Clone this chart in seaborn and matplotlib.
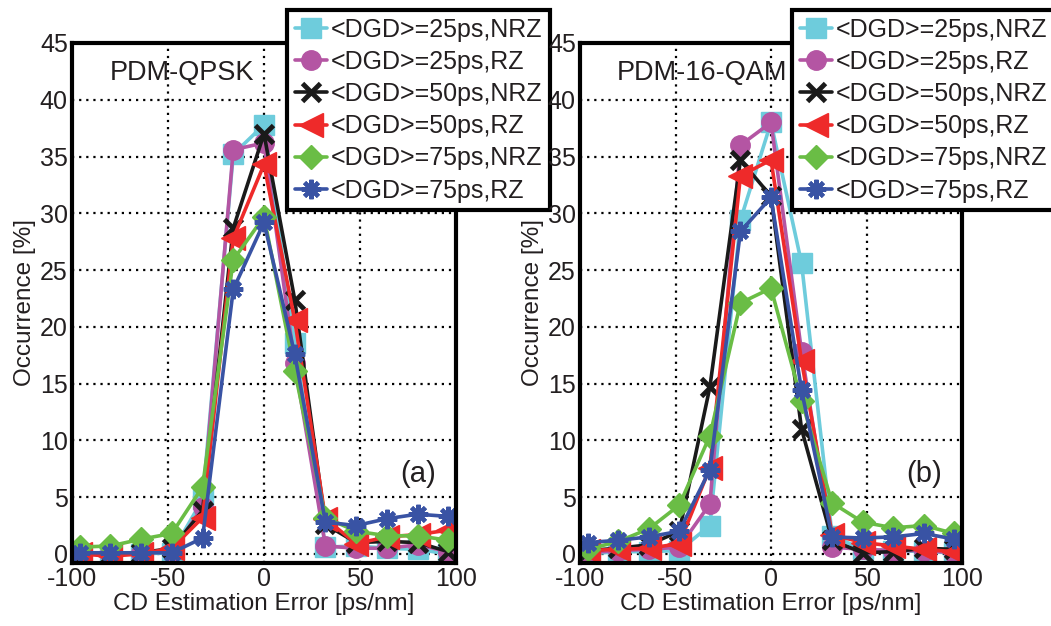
import numpy as np
import pandas as pd
import matplotlib
matplotlib.use("Agg")
import matplotlib.pyplot as plt
import seaborn as sns

sns.set_theme(style="white")
plt.rcParams['font.family'] = ['Liberation Sans', 'DejaVu Sans']
plt.rcParams['axes.unicode_minus'] = False

cd_error = [-96, -80, -64, -48, -32, -16, 0, 16, 32, 48, 64, 80, 96]

series_labels = ["<DGD>=25ps,NRZ", "<DGD>=25ps,RZ", "<DGD>=50ps,NRZ",
                 "<DGD>=50ps,RZ", "<DGD>=75ps,NRZ", "<DGD>=75ps,RZ"]

# Panel (a) PDM-QPSK
qpsk_25_nrz = [0.0, 0.0, 0.0, 0.1, 4.8, 35.2, 37.8, 18.6, 0.6, 0.7, 0.5, 0.4, 0.0]
qpsk_25_rz = [0.1, 0.1, 0.1, 0.2, 4.1, 35.6, 36.2, 16.8, 0.7, 0.5, 0.5, 0.8, 0.2]
qpsk_50_nrz = [0.0, 0.0, 0.1, 0.5, 3.8, 28.7, 37.0, 22.4, 2.6, 1.0, 1.1, 1.0, 0.2]
qpsk_50_rz = [0.0, -0.2, 0.0, 0.5, 3.2, 27.8, 34.3, 20.6, 3.1, 0.9, 1.5, 1.7, 2.1]
qpsk_75_nrz = [0.6, 0.7, 1.3, 1.8, 5.9, 25.9, 29.7, 16.1, 3.2, 2.0, 1.6, 1.6, 1.2]
qpsk_75_rz = [0.1, 0.1, 0.1, 0.1, 1.4, 23.3, 29.2, 17.6, 2.8, 2.5, 3.1, 3.5, 3.3]

# Panel (b) PDM-16-QAM
qam_25_nrz = [0.0, 0.2, 0.2, 0.3, 2.5, 29.4, 38.0, 25.6, 1.6, 0.4, 0.3, 0.2, 0.1]
qam_25_rz = [0.1, 0.3, 0.4, 0.6, 4.4, 36.0, 38.0, 17.8, 0.6, 0.4, 0.3, 0.3, 0.1]
qam_50_nrz = [0.3, 0.5, 0.8, 2.0, 14.7, 34.7, 31.5, 11.0, 1.2, 0.1, 0.2, 0.5, 0.4]
qam_50_rz = [0.3, 0.4, 0.5, 0.9, 7.6, 33.3, 34.7, 17.0, 1.7, 1.0, 0.7, 0.4, 0.2]
qam_75_nrz = [0.4, 1.1, 2.2, 4.3, 10.4, 22.1, 23.4, 13.5, 4.5, 2.8, 2.3, 2.5, 1.8]
qam_75_rz = [1.0, 1.2, 1.5, 2.0, 7.4, 28.4, 31.4, 14.4, 1.5, 1.4, 1.5, 1.8, 1.3]

qpsk = [qpsk_25_nrz, qpsk_25_rz, qpsk_50_nrz, qpsk_50_rz, qpsk_75_nrz, qpsk_75_rz]
qam = [qam_25_nrz, qam_25_rz, qam_50_nrz, qam_50_rz, qam_75_nrz, qam_75_rz]

colors = ["#6ECCDC", "#B455A3", "#1A1A1A", "#EE2A2A", "#6ABD45", "#3953A4"]
markers = ["s", "o", "x", "<", "D", (8, 2, 0)]
msizes = [14, 14, 13, 17, 12, 14]
medges = [1, 1, 3.5, 1, 1, 3]

xticks = [-100, -50, 0, 50, 100]
yticks = [0, 5, 10, 15, 20, 25, 30, 35, 40, 45]

W, H = 1051, 626
fig = plt.figure(figsize=(W / 100, H / 100), dpi=100)
ax_a = fig.add_axes([72 / W, (H - 563) / H, 384 / W, 520 / H])
ax_b = fig.add_axes([580 / W, (H - 563) / H, 382 / W, 520 / H])

txt_color = "#231F20"

def draw(ax, data, title, tag, leg_x):
    for vals, lab, c, m, ms, me in zip(data, series_labels, colors, markers, msizes, medges):
        df = pd.DataFrame({"x": cd_error, "y": vals})
        sns.lineplot(data=df, x="x", y="y", ax=ax, color=c, label=lab,
                     marker=m, markersize=ms, markeredgecolor=c,
                     markeredgewidth=me, linewidth=2.6, markerfacecolor=c)
    ax.set_xlim(-100, 100)
    ax.set_ylim(-0.8, 45)
    ax.set_xticks(xticks)
    ax.set_yticks(yticks)
    ax.grid(True, color="black", linestyle=(0, (1, 2.2)), linewidth=1.6)
    ax.tick_params(axis="both", labelsize=18, colors=txt_color, direction="in",
                   length=5, width=1.5, pad=3)
    for s in ax.spines.values():
        s.set_linewidth(3)
        s.set_color("black")
    ax.set_xlabel("CD Estimation Error [ps/nm]", fontsize=17.5, color=txt_color, labelpad=1)
    ax.set_ylabel("Occurrence [%]", fontsize=17.5, color=txt_color, labelpad=3)
    ax.text(-80.5, 42.4, title, fontsize=19.5, color=txt_color, va="center", ha="left")
    ax.text(71, 7.0, tag, fontsize=21, color=txt_color, va="center", ha="left")
    leg = ax.legend(loc="upper left", bbox_to_anchor=(leg_x / W, 1 - 10 / H),
                    bbox_transform=fig.transFigure, borderaxespad=0,
                    fontsize=18, handlelength=1.3, handletextpad=0.15,
                    labelspacing=0.33, borderpad=0.3, frameon=True, fancybox=False,
                    framealpha=1)
    leg.get_frame().set_edgecolor("black")
    leg.get_frame().set_linewidth(3)
    leg.set_zorder(10)
    for t in leg.get_texts():
        t.set_color(txt_color)

draw(ax_a, qpsk, "PDM-QPSK", "(a)", 287)
draw(ax_b, qam, "PDM-16-QAM", "(b)", 792)

fig.savefig("out.png", dpi=100)
